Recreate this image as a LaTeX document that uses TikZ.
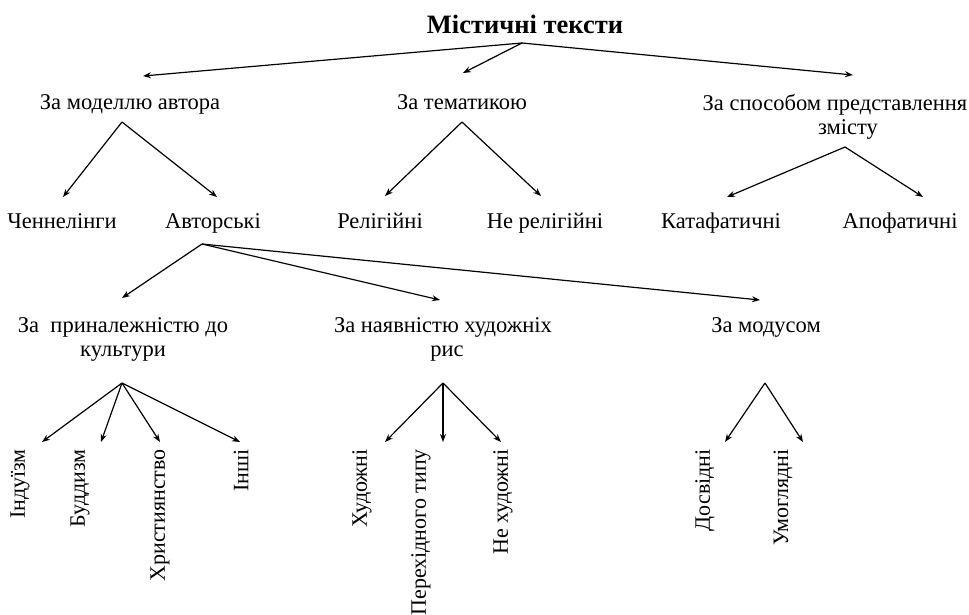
\documentclass[tikz,border=0pt]{standalone}
\usepackage{fontspec}
\setmainfont{Liberation Serif}
\usetikzlibrary{arrows.meta}

\begin{document}
\begin{tikzpicture}[x=1pt,y=-1pt,
  lbl/.style={inner sep=0pt,anchor=north,align=center,font=\fontsize{22.5}{24}\selectfont},
  vlbl/.style={inner sep=0pt,anchor=east,rotate=90,font=\fontsize{22}{24}\selectfont},
  arr/.style={-{Stealth[length=8pt,width=6pt]},line width=1.2pt}]
\useasboundingbox (0,0) rectangle (969,615);
\node[lbl,font=\bfseries\fontsize{26.5}{30}\selectfont] (root) at (525,14.5) {Містичні тексти};
\node[lbl] (model) at (130,94) {За моделлю автора};
\node[lbl] (tema) at (462,94) {За тематикою};
\node[lbl] (sposib) at (835,94) {За способом представлення\\\hspace*{26pt}змісту};
\node[lbl] (chen) at (62,213) {Ченнелінги};
\node[lbl] (avt) at (213,213) {Авторські};
\node[lbl] (rel) at (380,213) {Релігійні};
\node[lbl] (nerel) at (545,213) {Не релігійні};
\node[lbl] (kata) at (721,213) {Катафатичні};
\node[lbl] (apo) at (900,213) {Апофатичні};
\node[lbl] (kult) at (123,317) {За\ \ приналежністю до\\культури};
\node[lbl] (hud) at (443,317) {За наявністю художніх\\\hspace*{8pt}рис};
\node[lbl] (modus) at (766,317) {За модусом};
\node[vlbl] (ind) at (20,449) {Індуїзм};
\node[vlbl] (bud) at (80,449) {Буддизм};
\node[vlbl] (hrys) at (160,449) {Християнство};
\node[vlbl] (inshi) at (241,449) {Інші};
\node[vlbl] (hudozh) at (362,449) {Художні};
\node[vlbl] (pereh) at (421,449) {Перехідного типу};
\node[vlbl] (nehud) at (503,449) {Не художні};
\node[vlbl] (dosv) at (705,449) {Досвідні};
\node[vlbl] (umogl) at (783,449) {Умоглядні};
% branch points
\coordinate (rootS) at (522,43);
\coordinate (modelS) at (122,122);
\coordinate (temaS) at (462,122);
\coordinate (sposibS) at (845,147);
\coordinate (avtS) at (202,244);
\coordinate (kultS) at (122,383);
\coordinate (hudS) at (443,383);
\coordinate (modusS) at (765,383);
\draw[arr] (rootS) -- ([shift={(13,-18)}]model.north);
\draw[arr] (rootS) -- ([shift={(1,-21)}]tema.north);
\draw[arr] (rootS) -- ([shift={(18,-19)}]sposib.north);
\draw[arr] (modelS) -- ([shift={(1,-16)}]chen.north);
\draw[arr] (modelS) -- ([shift={(4,-16)}]avt.north);
\draw[arr] (temaS) -- ([shift={(5,-17)}]rel.north);
\draw[arr] (temaS) -- ([shift={(-4,-17)}]nerel.north);
\draw[arr] (sposibS) -- ([shift={(6,-16)}]kata.north);
\draw[arr] (sposibS) -- ([shift={(23,-16)}]apo.north);
\draw[arr] (avtS) -- ([shift={(-1,-19)}]kult.north);
\draw[arr] (avtS) -- ([shift={(-3,-17)}]hud.north);
\draw[arr] (avtS) -- ([shift={(-6,-17)}]modus.north);
\draw[arr] (kultS) -- ([shift={(22,-7)}]ind.east);
\draw[arr] (kultS) -- ([shift={(21,-7)}]bud.east);
\draw[arr] (kultS) -- ([shift={(0,-7)}]hrys.east);
\draw[arr] (kultS) -- ([shift={(-1,-7)}]inshi.east);
\draw[arr] (hudS) -- ([shift={(23,-7)}]hudozh.east);
\draw[arr] (hudS) -- ([shift={(22,-7)}]pereh.east);
\draw[arr] (hudS) -- ([shift={(-2,-7)}]nehud.east);
\draw[arr] (modusS) -- ([shift={(20,-7)}]dosv.east);
\draw[arr] (modusS) -- ([shift={(20,-7)}]umogl.east);
\end{tikzpicture}
\end{document}
